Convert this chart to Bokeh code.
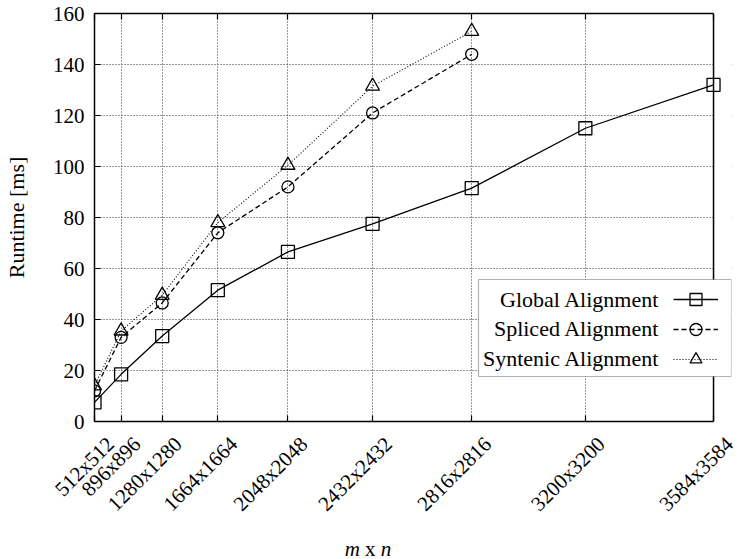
import math
from bokeh.plotting import figure
from bokeh.models import (Range1d, FixedTicker, LinearAxis, Label, BoxAnnotation,
                          Legend, LegendItem, Span, Div)
from bokeh.layouts import column
from bokeh.embed import file_html
from bokeh.resources import INLINE

# ---- data ----
sizes = [512, 896, 1280, 1664, 2048, 2432, 2816, 3200, 3584]
tick_labels = ["512x512", "896x896", "1280x1280", "1664x1664", "2048x2048",
               "2432x2432", "2816x2816", "3200x3200", "3584x3584"]
global_ms = [7.5, 18.5, 33.5, 51.5, 66.5, 77.5, 91.5, 115.0, 132.0]
spliced_ms = [12.0, 33.0, 46.5, 74.0, 92.0, 121.0, 144.0]
syntenic_ms = [14.0, 35.5, 49.5, 78.0, 100.5, 131.5, 153.0]
y_ticks = [0, 20, 40, 60, 80, 100, 120, 140, 160]
series_names = ["Global Alignment", "Spliced Alignment", "Syntenic Alignment"]

cells = [m * m for m in sizes]
FONT = "Liberation Serif"

# ---- layout geometry (pixels) ----
W, H = 738, 528
F_LEFT, F_RIGHT, F_TOP, F_BOTTOM = 93, 731, 13, 421   # frame edges
DATA_RIGHT = 713                                       # pixel of last x tick
c0, cN = cells[0], cells[-1]
x_end = c0 + (cN - c0) * (F_RIGHT - F_LEFT) / (DATA_RIGHT - F_LEFT)
per_px = (x_end - c0) / (F_RIGHT - F_LEFT)
shift = 16 * per_px                                    # tick label offset

p = figure(width=W, height=H, output_backend="svg", toolbar_location=None,
           x_range=Range1d(c0, x_end), y_range=Range1d(0, 160),
           min_border_left=F_LEFT, min_border_right=W - F_RIGHT,
           min_border_top=F_TOP, min_border_bottom=H - F_BOTTOM)
p.background_fill_color = "white"
p.border_fill_color = "white"
p.outline_line_color = None
p.extra_x_ranges = {"lab": Range1d(c0 - shift, x_end - shift)}

# bottom axis (line + inward ticks)
p.xaxis.ticker = FixedTicker(ticks=cells)
p.xaxis.bounds = (c0, cN)
p.xaxis.major_label_text_color = None
p.xaxis.major_label_standoff = 0
p.xaxis.major_tick_in = 6
p.xaxis.major_tick_out = 0
p.xaxis.minor_tick_line_color = None
p.xaxis.axis_line_width = 1.5
p.xaxis.major_tick_line_width = 1.2

# bottom tick labels (rotated)
lab_axis = LinearAxis(x_range_name="lab", ticker=FixedTicker(ticks=cells),
                      major_label_overrides=dict(zip(cells, tick_labels)),
                      major_label_orientation=math.pi / 4,
                      major_label_standoff=13,
                      major_label_text_font=FONT,
                      major_label_text_font_size="21px",
                      major_label_text_color="black",
                      axis_line_color=None, major_tick_line_color=None,
                      minor_tick_line_color=None)
p.add_layout(lab_axis, "below")

# top border axis
top_axis = LinearAxis(ticker=FixedTicker(ticks=cells), bounds=(c0, cN),
                      major_tick_in=6, major_tick_out=0,
                      major_label_text_color=None, major_label_standoff=0,
                      minor_tick_line_color=None, axis_line_width=1.5,
                      major_tick_line_width=1.2)
p.add_layout(top_axis, "above")

# left axis
p.yaxis.ticker = FixedTicker(ticks=y_ticks)
p.yaxis.major_tick_in = 6
p.yaxis.major_tick_out = 0
p.yaxis.minor_tick_line_color = None
p.yaxis.axis_line_width = 1.5
p.yaxis.major_tick_line_width = 1.2
p.yaxis.major_label_text_font = FONT
p.yaxis.major_label_text_font_size = "21px"
p.yaxis.major_label_text_color = "black"
p.yaxis.major_label_standoff = 10
p.yaxis.axis_label = "Runtime [ms]"
p.yaxis.axis_label_text_font = FONT
p.yaxis.axis_label_text_font_size = "22px"
p.yaxis.axis_label_text_font_style = "normal"
p.yaxis.axis_label_text_color = "black"
p.yaxis.axis_label_standoff = 21

# grid
p.xgrid.ticker = FixedTicker(ticks=cells)
p.ygrid.ticker = FixedTicker(ticks=y_ticks)
for g in (p.xgrid, p.ygrid):
    g.grid_line_color = "#333333"
    g.grid_line_dash = "1 2"
    g.grid_line_width = 1

# white cover right of the last tick (under the data)
p.add_layout(BoxAnnotation(left=cN, left_units="data", fill_color="white",
                           fill_alpha=1.0, line_color=None, level="underlay"))

# series
sx = cells[:len(spliced_ms)]
tx = cells[:len(syntenic_ms)]
l1 = p.line(cells, global_ms, line_color="black", line_width=1.3)
m1 = p.scatter(cells, global_ms, marker="square", size=13, fill_color=None,
               line_color="black", line_width=1.3)
l2 = p.line(sx, spliced_ms, line_color="black", line_width=1.3, line_dash="5 3")
m2 = p.scatter(sx, spliced_ms, marker="circle", size=12, fill_color=None,
               line_color="black", line_width=1.3)
l3 = p.line(tx, syntenic_ms, line_color="black", line_width=1.1, line_dash="1 2")
m3 = p.scatter(tx, syntenic_ms, marker="triangle", size=14, fill_color=None,
               line_color="black", line_width=1.3)

# right border
p.add_layout(Span(location=cN, dimension="height", line_color="black",
                  line_width=1.5))

# legend box and texts
p.add_layout(BoxAnnotation(left=384, right=637, bottom=45, top=142,
                           left_units="screen", right_units="screen",
                           bottom_units="screen", top_units="screen",
                           fill_color="white", fill_alpha=1.0,
                           line_color="black", line_width=1.2))
for name, yy in zip(series_names, [122, 93, 63]):
    p.add_layout(Label(x=565, y=yy, x_units="screen", y_units="screen", text=name,
                       text_font=FONT, text_font_size="22px", text_color="black",
                       text_align="right", text_baseline="middle"))

legend = Legend(items=[LegendItem(label=" ", renderers=[l1, m1]),
                       LegendItem(label=" ", renderers=[l2, m2]),
                       LegendItem(label=" ", renderers=[l3, m3])],
                location=(579, 47), padding=0, margin=0, spacing=0,
                glyph_width=45, glyph_height=30, label_width=0, label_height=1,
                label_standoff=0, label_text_color=None,
                border_line_color=None, background_fill_alpha=0)
p.add_layout(legend)

# x axis title with italic m and n
xtitle = Div(text='<div style="width:726px;text-align:center;line-height:24px;'
                  'padding-top:4px"><i>m</i> x <i>n</i></div>',
             width=W, height=559 - H,
             styles={"font-family": FONT, "font-size": "21px", "color": "black",
                     "line-height": "0px", "overflow": "visible"})

layout = column(p, xtitle, spacing=0)
open("out.html", "w").write(file_html(layout, INLINE))
